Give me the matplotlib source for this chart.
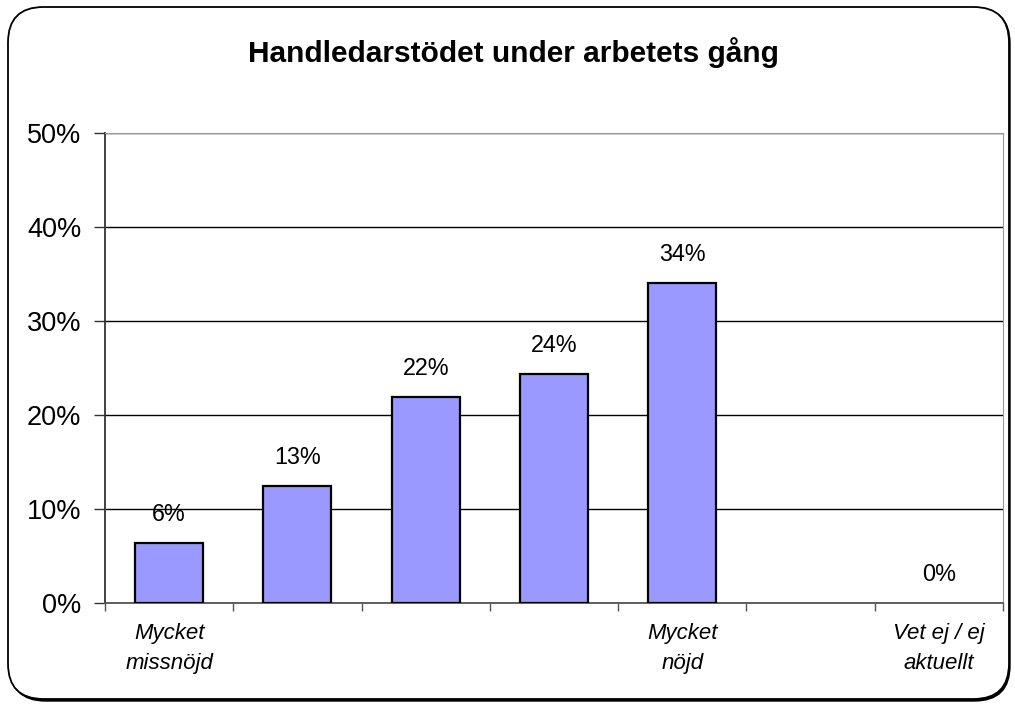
import matplotlib
matplotlib.use("Agg")
import matplotlib.pyplot as plt
from matplotlib.patches import FancyBboxPatch

plt.rcParams['font.family'] = ['Liberation Sans', 'DejaVu Sans']

categories = ['Mycket\nmissnöjd', '', '', '', 'Mycket\nnöjd', '', 'Vet ej / ej\naktuellt']
values = [6.4, 12.5, 21.9, 24.4, 34.0, 0, 0]
labels = ['6%', '13%', '22%', '24%', '34%', '', '0%']
yticks = [0, 10, 20, 30, 40, 50]
title = 'Handledarstödet under arbetets gång'

W, H = 1015, 706
fig = plt.figure(figsize=(W / 100, H / 100), dpi=100)

# rounded outer frame with a little shadow
shadow = FancyBboxPatch((10 / W, 5 / H), 1000 / W, 693 / H,
                        boxstyle="round,pad=0,rounding_size=0.035",
                        transform=fig.transFigure, facecolor='black',
                        edgecolor='black', lw=1, mutation_aspect=W / H, zorder=-2)
frame = FancyBboxPatch((8 / W, 7 / H), 1001 / W, 692 / H,
                       boxstyle="round,pad=0,rounding_size=0.035",
                       transform=fig.transFigure, facecolor='white',
                       edgecolor='black', lw=1.3, mutation_aspect=W / H, zorder=-1)
fig.patches.append(shadow)
fig.patches.append(frame)

ax = fig.add_axes([105 / W, 1 - 603 / H, 898 / W, 470 / H])
ax.set_facecolor('none')

x = list(range(len(values)))
edges = ['black' if v > 0 else 'none' for v in values]
ax.bar(x, values, width=0.53, color='#9999ff', edgecolor=edges, linewidth=1.6, zorder=3)

for xi, v, lab in zip(x, values, labels):
    ax.text(xi, v + 1.8, lab, ha='center', va='bottom', fontsize=16.8, color='black', zorder=4)

ax.set_xlim(-0.5, len(values) - 0.5)
ax.set_ylim(0, 50)
ax.set_yticks(yticks)
ax.set_yticklabels([f'{t}%' for t in yticks], fontsize=19.5)
ax.yaxis.grid(True, color='black', lw=1, zorder=0)
ax.set_axisbelow(True)

ax.set_xticks([i - 0.5 for i in range(len(values) + 1)])
ax.set_xticklabels([])
ax.tick_params(axis='x', direction='out', length=6, color='#555555', width=1)
ax.tick_params(axis='y', direction='out', length=8, color='#333333', width=1, pad=9)

for xi, cat in zip(x, categories):
    ax.text(xi, -2.1, cat, ha='center', va='top', fontsize=16, style='italic',
            linespacing=1.6, transform=ax.transData)

ax.spines['left'].set_color('#333333')
ax.spines['left'].set_linewidth(1.3)
ax.spines['bottom'].set_color('#555555')
ax.spines['bottom'].set_linewidth(1.3)
ax.spines['top'].set_color('#999999')
ax.spines['right'].set_color('#999999')

fig.text(513 / W, 1 - 53 / H, title, ha='center', va='center',
         fontsize=21.5, fontweight='bold')

fig.savefig('out.png', dpi=100)
